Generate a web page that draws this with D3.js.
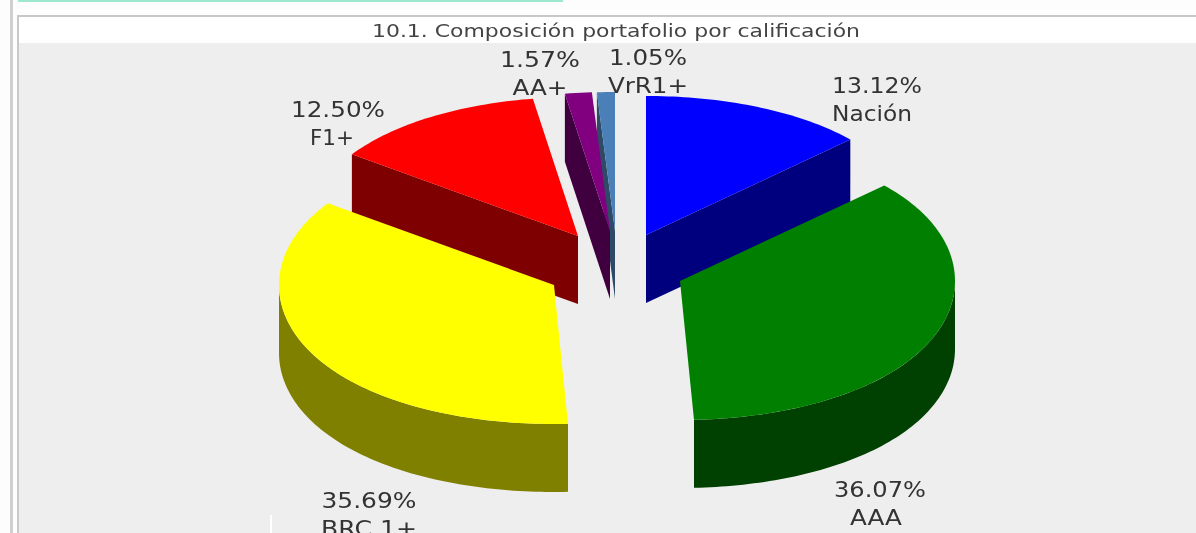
<!DOCTYPE html>
<html><head><meta charset="utf-8">
<script src="https://cdn.jsdelivr.net/npm/d3@7"></script>
<style>html,body{margin:0;padding:0;background:#fff;overflow:hidden}svg{display:block;filter:blur(0.45px)}</style>
</head><body><svg id="c" width="1196" height="533"></svg>
<script>
const title = "10.1. Composición portafolio por calificación";
const categories = ["Nación","AAA","BRC 1+","F1+","AA+","VrR1+"];
const values = [13.12,36.07,35.69,12.50,1.57,1.05];
const topColors = ["#0000ff","#007f00","#ffff00","#ff0000","#800080","#4a7fb8"];
const sideColors = ["#00007f","#004000","#7f7f00","#7f0000","#400040","#2f4a66"];
// exploded apex of each slice, in pixels
const apexes = [[646,235],[680,281],[554,285],[578,236],[610,231],[615,231]];
// label layout: centre x of value line, centre x of name line, baseline of value line, widths
const labelX1 = [877,880,369,338,540,648];
const labelX2 = [872,876,369,332,540,648];
const labelY = [93,497,508,117,67,65];
const labelW1 = [90,92,95,94,80,78];
const labelW2 = [80,52,96,44,55,80];
const rx=275, ry=139, depth=68, bulge=0.012;

const svg=d3.select("#c");
svg.append("rect").attr("width",1196).attr("height",533).attr("fill","#fdfdfd");
svg.append("rect").attr("x",10).attr("y",0).attr("width",3).attr("height",533).attr("fill","#cfcfcf");
svg.append("rect").attr("x",18).attr("y",16).attr("width",1180).attr("height",519).attr("fill","#fff").attr("stroke","#c8c8c8").attr("stroke-width",2);
svg.append("rect").attr("x",19).attr("y",43).attr("width",1177).attr("height",490).attr("fill","#eeeeee");
svg.append("rect").attr("x",18).attr("y",0).attr("width",545).attr("height",2).attr("fill","#9fe8d0");
svg.append("rect").attr("x",270).attr("y",515).attr("width",2).attr("height",18).attr("fill","#fff");

svg.append("text").attr("x",616).attr("y",37).attr("text-anchor","middle")
  .attr("font-family","DejaVu Sans").attr("font-size",17).attr("fill","#444")
  .attr("textLength",488).attr("lengthAdjust","spacingAndGlyphs").text(title);

const slices=d3.pie().sort(null).value(d=>d)(values);
const pt=(i,t)=>{const k=1+bulge*Math.pow(Math.sin(2*t),2);return [apexes[i][0]+rx*k*Math.sin(t),apexes[i][1]-ry*k*Math.cos(t)];};
function arcPts(i,a,b){const n=Math.max(2,Math.ceil((b-a)/0.02));return d3.range(n+1).map(k=>pt(i,a+(b-a)*k/n));}
const line=d3.line();
const order=[5,4,3,0,2,1];
const g=svg.append("g");
order.forEach(i=>{
  const s=slices[i],a=s.startAngle,b=s.endAngle,A=apexes[i];
  const down=p=>[p[0],p[1]+depth];
  const ra=Math.max(a,Math.PI/2),rb=Math.min(b,Math.PI*1.5);
  if(rb>ra){const r=arcPts(i,ra,rb);g.append("path").attr("d",line(r.concat(r.map(down).reverse()))+"Z").attr("fill",sideColors[i]);}
  if(i===0){const p=pt(i,b);g.append("path").attr("d",line([A,p,down(p),down(A)])+"Z").attr("fill",sideColors[i]);}
  if(i>=3){const p=pt(i,a);g.append("path").attr("d",line([A,p,down(p),down(A)])+"Z").attr("fill",sideColors[i]);}
  g.append("path").attr("d",line([A].concat(arcPts(i,a,b)))+"Z").attr("fill",topColors[i]);
});

categories.forEach((c,i)=>{
  const t=svg.append("g").attr("font-family","DejaVu Sans").attr("font-size",22).attr("fill","#333").attr("text-anchor","middle");
  t.append("text").attr("x",labelX1[i]).attr("y",labelY[i]).attr("textLength",labelW1[i]).attr("lengthAdjust","spacingAndGlyphs").text(d3.format(".2f")(values[i])+"%");
  t.append("text").attr("x",labelX2[i]).attr("y",labelY[i]+28).attr("textLength",labelW2[i]).attr("lengthAdjust","spacingAndGlyphs").text(c);
});
</script></body></html>
